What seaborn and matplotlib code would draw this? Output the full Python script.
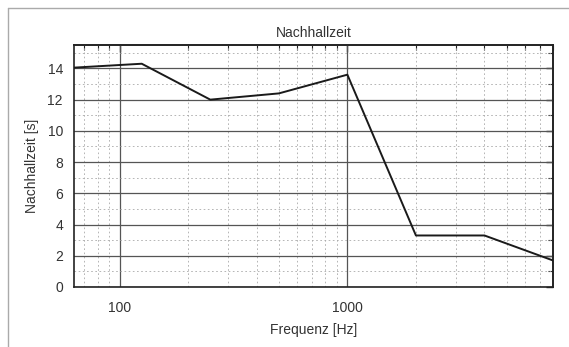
import matplotlib
matplotlib.use("Agg")
import matplotlib.pyplot as plt
import matplotlib.ticker as mticker
from matplotlib.lines import Line2D
import seaborn as sns
import pandas as pd

freq_hz = [63, 125, 250, 500, 1000, 2000, 4000, 8000]
reverb_s = [14.05, 14.3, 12.0, 12.4, 13.6, 3.3, 3.3, 1.7]
title = "Nachhallzeit"
xlabel = "Frequenz [Hz]"
ylabel = "Nachhallzeit [s]"

sns.set_theme(style="white")
plt.rcParams['font.family'] = ['Liberation Sans', 'DejaVu Sans']

df = pd.DataFrame({"f": freq_hz, "t": reverb_s})

fig = plt.figure(figsize=(5.69, 3.47), dpi=100)
ax = fig.add_axes([74/569, 1-287/347, (553-74)/569, (287-45)/347])

sns.lineplot(data=df, x="f", y="t", ax=ax, color="#1a1a1a", linewidth=1.4, zorder=5)

ax.set_xscale("log")
ax.set_xlim(63, 8000)
ax.set_ylim(0, 15.5)

def setup_x(a):
    a.xaxis.set_major_locator(mticker.LogLocator(base=10, numticks=10))
    a.xaxis.set_minor_locator(mticker.LogLocator(base=10, subs=range(2, 10), numticks=20))
    a.xaxis.set_minor_formatter(mticker.NullFormatter())

def setup_y(a):
    a.yaxis.set_major_locator(mticker.MultipleLocator(2))
    a.yaxis.set_minor_locator(mticker.MultipleLocator(1))

setup_x(ax)
setup_y(ax)
ax.xaxis.set_major_formatter(mticker.FuncFormatter(lambda v, p: f"{int(v)}"))

ax.grid(True, which="major", color="#555555", linewidth=0.9, linestyle="-")
ax.grid(True, which="minor", color="#aaaaaa", linewidth=0.6, linestyle=(0, (2, 3)))

for s in ax.spines.values():
    s.set_color("#222222")
    s.set_linewidth(1.2)

txt = "#333333"
ax.tick_params(axis="both", which="both", direction="out", colors="#222222",
               labelcolor=txt, labelsize=10)
ax.tick_params(which="major", length=5, width=1)
ax.tick_params(which="minor", length=3.5, width=0.8)
ax.tick_params(axis="x", pad=5)
ax.tick_params(axis="y", pad=3)

# inward ticks on top and right
top = ax.secondary_xaxis("top")
setup_x(top)
top.xaxis.set_major_formatter(mticker.NullFormatter())
top.tick_params(axis="x", which="both", direction="in", colors="#222222", labeltop=False)
top.tick_params(which="major", length=5, width=1)
top.tick_params(which="minor", length=3.5, width=0.8)
top.spines["top"].set_linewidth(1.2)
top.spines["top"].set_color("#222222")

right = ax.secondary_yaxis("right")
setup_y(right)
right.yaxis.set_major_formatter(mticker.NullFormatter())
right.tick_params(axis="y", which="both", direction="in", colors="#222222", labelright=False)
right.tick_params(which="major", length=5, width=1)
right.tick_params(which="minor", length=3.5, width=0.8)
right.spines["right"].set_linewidth(1.2)
right.spines["right"].set_color("#222222")

ax.set_title(title, fontsize=10, color=txt, pad=6)
ax.set_xlabel(xlabel, fontsize=10, color=txt, labelpad=6)
ax.set_ylabel(ylabel, fontsize=10, color=txt, labelpad=6)

# figure frame (top & left)
fig.add_artist(Line2D([8/569, 1], [1-8/347, 1-8/347], color="#aaaaaa", linewidth=1, transform=fig.transFigure))
fig.add_artist(Line2D([8/569, 8/569], [0, 1-8/347], color="#aaaaaa", linewidth=1, transform=fig.transFigure))

fig.savefig("out.png", dpi=100)
